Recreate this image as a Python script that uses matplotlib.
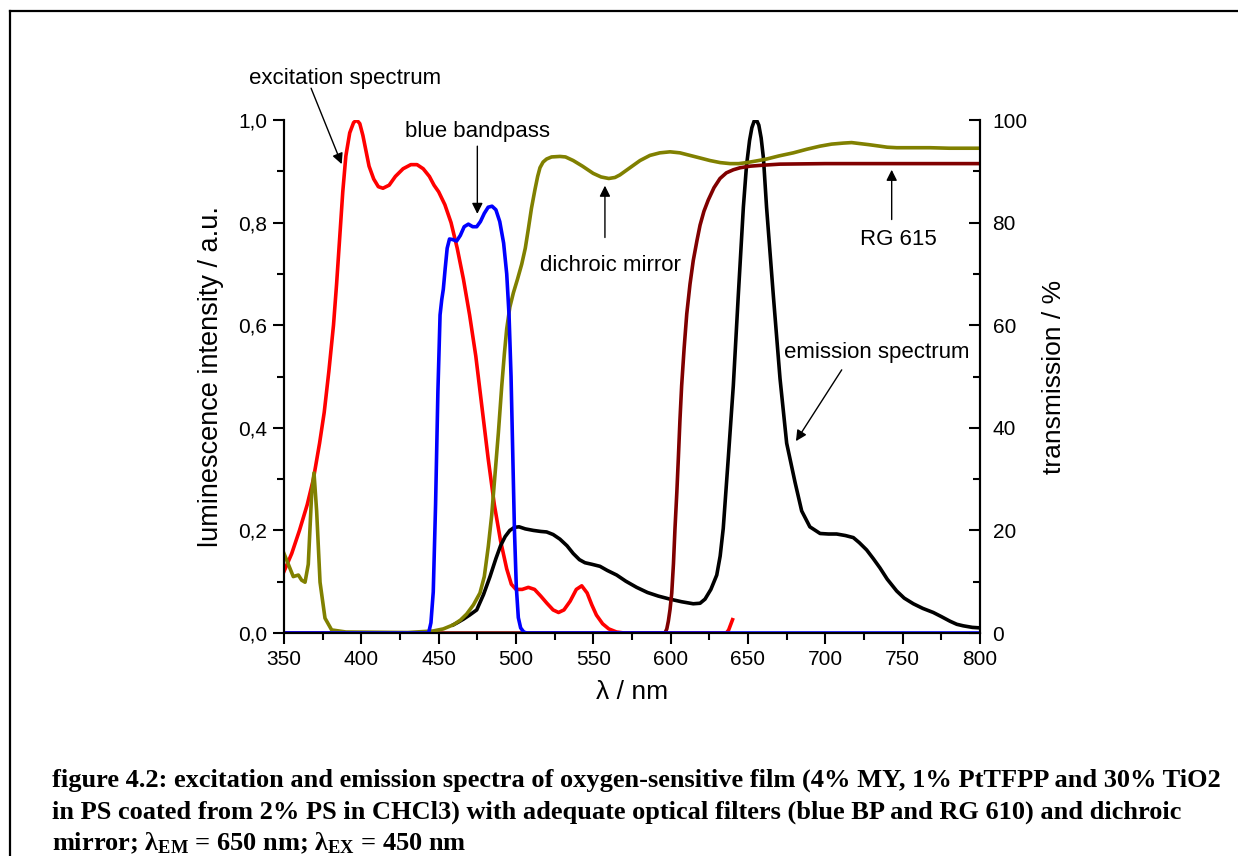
import matplotlib
matplotlib.use('Agg')
import matplotlib.pyplot as plt
from matplotlib.lines import Line2D
from matplotlib.ticker import MultipleLocator, FuncFormatter

plt.rcParams['font.family'] = ['Liberation Sans', 'DejaVu Sans']
plt.rcParams['mathtext.fontset'] = 'custom'
plt.rcParams['mathtext.rm'] = 'Liberation Serif:bold'
plt.rcParams['mathtext.it'] = 'Liberation Serif:bold'
plt.rcParams['mathtext.bf'] = 'Liberation Serif:bold'

# ---- data ----------------------------------------------------------------
# excitation spectrum (left axis, a.u.)
exc_wl = [350, 355, 360, 365, 369, 373, 376, 379, 382, 384, 386, 388, 390,
          392.5, 395, 397, 399, 401, 403, 405, 408, 411, 414, 418, 422, 427,
          432, 436, 440, 444, 447, 450, 454, 458, 462, 466, 470, 474, 478,
          482, 486, 490, 494, 497, 500, 504, 508, 512, 516, 520, 524, 527.5,
          531, 535, 539, 542.5, 546, 549, 552, 556, 560, 565, 570, 580, 636,
          637.5, 640]
exc_val = [0.12, 0.155, 0.20, 0.25, 0.30, 0.37, 0.43, 0.51, 0.60, 0.68, 0.77,
           0.86, 0.93, 0.975, 0.995, 1.0, 0.993, 0.97, 0.94, 0.91, 0.885, 0.87,
           0.867, 0.873, 0.89, 0.905, 0.913, 0.913, 0.905, 0.89, 0.873, 0.86,
           0.835, 0.80, 0.75, 0.69, 0.62, 0.54, 0.44, 0.34, 0.25, 0.18, 0.125,
           0.095, 0.085, 0.085, 0.089, 0.085, 0.072, 0.058, 0.045, 0.040, 0.045,
           0.062, 0.085, 0.092, 0.078, 0.055, 0.035, 0.018, 0.008, 0.002, 0.0,
           0.0, 0.0, 0.006, 0.026]

# emission spectrum (left axis, a.u.)
em_wl = [459.5, 462, 466, 470, 474.6, 479, 483.2, 487, 490, 493, 496, 499,
         502, 506, 511.2, 516, 519.8, 524, 528.4, 533, 537, 541, 544.6, 549,
         554.3, 559, 565.1, 571, 578, 585, 592, 599.6, 607, 614.6, 619, 622.2,
         626, 629.8, 632, 634, 637.3, 640.5, 643.7, 647, 649, 651, 652.5, 654,
         655.5, 657, 658.5, 660, 662, 666.4, 670.7, 675, 680.4, 684.7, 690,
         696.6, 702, 707.3, 713, 718.1, 722, 726.7, 731, 735.3, 740, 746.1,
         751, 756.9, 763, 769.8, 775, 780.6, 785, 789.2, 795, 800]
em_val = [0.016, 0.02, 0.027, 0.035, 0.045, 0.075, 0.11, 0.145, 0.17, 0.188,
          0.20, 0.206, 0.207, 0.203, 0.20, 0.198, 0.197, 0.192, 0.183, 0.17,
          0.155, 0.143, 0.137, 0.134, 0.13, 0.122, 0.113, 0.101, 0.089, 0.079,
          0.072, 0.066, 0.061, 0.057, 0.058, 0.066, 0.085, 0.113, 0.15, 0.204,
          0.343, 0.482, 0.657, 0.83, 0.91, 0.96, 0.985, 0.998, 1.0, 0.99, 0.965,
          0.925, 0.83, 0.657, 0.496, 0.37, 0.294, 0.238, 0.207, 0.194, 0.193,
          0.193, 0.19, 0.186, 0.176, 0.162, 0.145, 0.127, 0.105, 0.082, 0.068,
          0.057, 0.048, 0.040, 0.032, 0.023, 0.017, 0.014, 0.011, 0.010]

# blue bandpass (right axis, %)
bp_wl = [350, 443.5, 445, 446.5, 448, 449.5, 450.9, 452, 453, 454.2, 455.5,
         457, 459, 461.6, 464, 466.5, 469.2, 472, 474.6, 477, 479.5, 482,
         484.5, 487, 489.5, 492, 494, 495.5, 496.8, 497.9, 499, 500.2, 501.5,
         503, 505, 507, 800]
bp_val = [0, 0, 2, 8, 25, 47, 62, 65, 67, 71, 75, 76.8, 76.7, 76.4, 77.5,
          79.2, 79.7, 79.2, 79.2, 80.2, 81.8, 83.0, 83.2, 82.5, 80.2, 76,
          70, 62, 50, 35, 20, 9, 3, 1, 0.2, 0, 0]

# dichroic mirror (right axis, %)
dm_wl = [350, 352.8, 356, 359.3, 361.4, 363.6, 365.7, 367.9, 369.4, 371.1,
         373.3, 376.5, 380.8, 390, 430, 446.5, 453, 459.5, 464, 468.1, 472.5,
         476.7, 479.5, 482.1, 484.3, 486.4, 488.6, 490.8, 492.5, 494, 496,
         498.3, 501, 503.7, 506, 508, 510, 512.3, 514, 515.5, 517.5, 519.8,
         523, 528.4, 532, 537, 543, 549.9, 555, 560, 564, 567.2, 573.7, 580.2,
         586.6, 593, 599.6, 606, 612.5, 619, 625.4, 632, 638.4, 644, 649.2,
         655, 662.1, 670, 679.3, 688, 696.5, 704, 711.6, 717, 722.4, 728,
         735.3, 740, 746.1, 755, 767.7, 780, 800]
dm_val = [15.5, 13.4, 11, 11.3, 10.3, 9.9, 13.4, 27.3, 31.2, 23.8,
          9.9, 2.9, 0.6, 0.2, 0.1, 0.4, 0.8, 1.6, 2.5, 3.7, 5.5,
          7.8, 11, 16.9, 23, 30.8, 39, 48.2, 54.5, 59.3, 63.5,
          66.3, 69, 71.9, 75, 78.8, 82.8, 86.5, 89, 90.7, 91.8, 92.4,
          92.8, 92.9, 92.8, 92.1, 91, 89.6, 88.9, 88.6, 88.8, 89.3, 90.7, 92.1,
          93.1, 93.6, 93.8, 93.6, 93.1, 92.6, 92.1, 91.7, 91.5, 91.5, 91.7,
          92, 92.4, 93, 93.6, 94.3, 94.9, 95.3, 95.5, 95.6, 95.4, 95.2,
          94.9, 94.7, 94.6, 94.6, 94.6, 94.5, 94.5]

# RG 615 longpass (right axis, %)
rg_wl = [350, 596.3, 597.5, 598.5, 599.6, 600.7, 601.8, 602.8, 604, 605,
         606, 607.1, 608.7, 610.4, 612.5, 614.6, 617, 619, 621.5, 624.3, 628,
         631.9, 636, 640.5, 645, 651.3, 660, 670.7, 700, 730, 760, 800]
rg_val = [0, 0, 0.8, 2.3, 4.6, 7.8, 13.5, 20.4, 27.5, 34.3,
          41.5, 48.2, 55.5, 62.2, 68, 72.6, 76.5, 79.5, 82.2, 84.4, 86.8,
          88.6, 89.7, 90.3, 90.7, 91, 91.2, 91.4, 91.5, 91.5, 91.5, 91.5]

caption = [
    'figure 4.2: excitation and emission spectra of oxygen-sensitive film (4% MY, 1% PtTFPP and 30% TiO2',
    'in PS coated from 2% PS in CHCl3) with adequate optical filters (blue BP and RG 610) and dichroic',
    r'mirror; $\lambda_{\mathrm{EM}}$ = 650 nm; $\lambda_{\mathrm{EX}}$ = 450 nm',
]

# ---- figure ----------------------------------------------------------------
fig = plt.figure(figsize=(12.38, 8.56), dpi=100)
ax = fig.add_axes([0.2294, 0.2605, 0.5622, 0.5993])
ax2 = ax.twinx()

lw = 2.6
ax.plot(exc_wl, exc_val, color='#ff0000', lw=lw, solid_joinstyle='round')
ax.plot(em_wl, em_val, color='black', lw=lw, solid_joinstyle='round')
ax2.plot(rg_wl, rg_val, color='#800000', lw=lw, solid_joinstyle='round')
ax2.plot(dm_wl, dm_val, color='#808000', lw=lw, solid_joinstyle='round')
ax2.plot(bp_wl, bp_val, color='#0000ff', lw=lw, solid_joinstyle='round')

ax.set_xlim(350, 800)
ax.set_ylim(0, 1.0)
ax2.set_ylim(0, 100)

ax.xaxis.set_major_locator(MultipleLocator(50))
ax.xaxis.set_minor_locator(MultipleLocator(25))
ax.yaxis.set_major_locator(MultipleLocator(0.2))
ax.yaxis.set_minor_locator(MultipleLocator(0.1))
ax.yaxis.set_major_formatter(FuncFormatter(lambda v, p: f'{v:.1f}'.replace('.', ',')))
ax2.yaxis.set_major_locator(MultipleLocator(20))
ax2.yaxis.set_minor_locator(MultipleLocator(10))

for a in (ax, ax2):
    for s in a.spines.values():
        s.set_linewidth(1.5)
    a.spines['top'].set_visible(False)
ax.tick_params(axis='both', which='major', direction='out', length=8, width=1.5,
               labelsize=15, pad=4)
ax.tick_params(axis='both', which='minor', direction='out', length=5, width=1.5)
ax2.tick_params(axis='y', which='major', direction='in', length=8, width=1.5,
                labelsize=15, pad=9)
ax2.tick_params(axis='y', which='minor', direction='in', length=5, width=1.5)

ax.set_xlabel('λ / nm', fontsize=19, labelpad=8)
ax.set_ylabel('luminescence intensity / a.u.', fontsize=19.5, labelpad=10)
ax2.set_ylabel('transmission / %', fontsize=19, labelpad=10)

# annotations
arrow = dict(arrowstyle='-|>', color='black', lw=1.0, mutation_scale=16,
             shrinkA=0, shrinkB=0)
ax.text(389.5, 1.081, 'excitation spectrum', fontsize=16, ha='center', va='center')
ax.annotate('', xy=(387.3, 0.914), xytext=(367.5, 1.062), arrowprops=arrow,
            annotation_clip=False)
ax.text(475, 0.977, 'blue bandpass', fontsize=16, ha='center', va='center')
ax.annotate('', xy=(475, 0.817), xytext=(475, 0.949), arrowprops=arrow)
ax.text(561, 0.716, 'dichroic mirror', fontsize=16, ha='center', va='center')
ax.annotate('', xy=(557.5, 0.872), xytext=(557.5, 0.771), arrowprops=arrow)
ax.text(747, 0.768, 'RG 615', fontsize=16, ha='center', va='center')
ax.annotate('', xy=(742.9, 0.903), xytext=(742.9, 0.806), arrowprops=arrow)
ax.text(733, 0.546, 'emission spectrum', fontsize=16, ha='center', va='center')
ax.annotate('', xy=(681, 0.374), xytext=(710.6, 0.513), arrowprops=arrow)

# caption
for i, line in enumerate(caption):
    fig.text(52 / 1238, 1 - (787 + i * 31.5) / 856, line, fontsize=19,
             family='Liberation Serif', weight='bold', va='baseline', ha='left')

# page frame (top and left edges)
fig.add_artist(Line2D([10 / 1238, 1.0], [1 - 11 / 856, 1 - 11 / 856],
                      transform=fig.transFigure, color='black', lw=1.6))
fig.add_artist(Line2D([10 / 1238, 10 / 1238], [0, 1 - 11 / 856],
                      transform=fig.transFigure, color='black', lw=1.6))

fig.savefig('out.png', dpi=100)
